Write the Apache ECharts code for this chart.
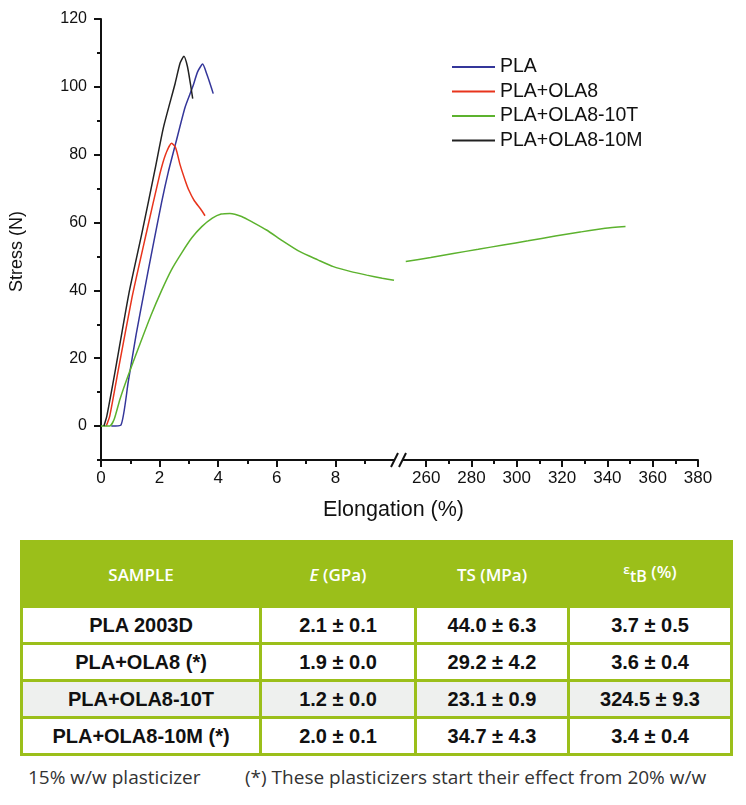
<!DOCTYPE html>
<html>
<head>
<meta charset="utf-8">
<script src="https://cdn.jsdelivr.net/npm/echarts@6/dist/echarts.min.js"></script>
<style>
    html, body {
        margin: 0;
        padding: 0;
        background: #fff;
    }
    #stress-chart {
        position: absolute;
        left: 0;
        top: 0;
        width: 746px;
        height: 530px;
    }
    #props {
        position: absolute;
        left: 20px;
        top: 540px;
        width: 713px;
        border-collapse: collapse;
        border: 3px solid #9bbf1a;
        table-layout: fixed;
    }
    #props th, #props td {
        border: 3px solid #9bbf1a;
        text-align: center;
        padding: 0;
    }
    #props th {
        height: 62px;
        background: #9bbf1a;
        color: #fff;
        font-family: "Open Sans", sans-serif;
        font-weight: 600;
        font-size: 17px;
        border-color: #9bbf1a;
    }
    #props td {
        height: 34px;
        font-family: "Liberation Sans Narrow", "Liberation Sans", Arial, sans-serif;
        font-weight: bold;
        font-size: 20px;
        color: #111;
    }
    #props tr.shade td {
        background: #eef0ee;
    }
    .note {
        position: absolute;
        top: 764px;
        font-family: "Open Sans", sans-serif;
        font-size: 19px;
        color: #333;
    }
</style>
</head>
<body>
<div id="stress-chart"></div>
<table id="props"></table>
<div class="note" style="left:28px">15% w/w plasticizer</div>
<div class="note" style="left:245px">(*) These plasticizers start their effect from 20% w/w</div>

<script>
    // curves: elongation (%) / stress (N)
    var plaX = [0.35, 0.68, 0.93, 1.2, 1.46, 1.75, 2.07, 2.3, 2.55, 2.87, 3.13, 3.3, 3.47, 3.6, 3.72, 3.83];
    var plaY = [0, 0.3, 13, 27, 39, 52, 66, 75, 83.4, 94, 100, 104.5, 106.7, 104, 101, 98];

    var ola8X = [0.18, 0.3, 0.6, 1.06, 1.55, 2.0, 2.2, 2.41, 2.55, 2.7, 2.87, 3.0, 3.18, 3.4, 3.55];
    var ola8Y = [0, 3, 17, 38, 57, 74, 80, 83.4, 82, 77, 72.5, 69.5, 66.5, 64, 62];

    var tX = [0, 0.3, 0.45, 0.65, 0.93, 1.3, 1.7, 2.07, 2.4, 2.75, 3.1, 3.44, 3.8, 4.1, 4.4, 4.8, 5.2, 5.65, 6.2, 6.79, 7.4, 7.93, 8.5, 9.07, 9.6, 10.0];
    var tY = [0, 0, 2, 8, 15, 23.5, 32.5, 40, 46, 51, 55.5, 58.8, 61.3, 62.5, 62.7, 61.8, 60, 57.8, 54.6, 51.4, 49, 47, 45.6, 44.5, 43.6, 43];
    // same sample, after the axis break
    var tFarX = [251, 262, 272, 283, 294, 305, 317, 328, 339, 348];
    var tFarY = [48.5, 49.7, 50.9, 52.1, 53.4, 54.6, 56, 57.2, 58.3, 58.8];

    var mX = [0.1, 0.2, 0.5, 0.95, 1.4, 1.84, 2.13, 2.53, 2.7, 2.83, 2.95, 3.05, 3.13];
    var mY = [0, 3, 17, 39, 57, 75.5, 88, 101, 107, 109, 106, 101, 96.5];

    // axis ticks
    var yTicks = [0, 20, 40, 60, 80, 100, 120];
    var yMinor = [-10, 10, 30, 50, 70, 90, 110];
    var xTicksNear = [0, 2, 4, 6, 8];
    var xMinorNear = [1, 3, 5, 7, 9];
    var xTicksFar = [260, 280, 300, 320, 340, 360, 380];
    var xMinorFar = [270, 290, 310, 330, 350, 370];

    // table
    var samples = ["PLA 2003D", "PLA+OLA8 (*)", "PLA+OLA8-10T", "PLA+OLA8-10M (*)"];
    var modulus = ["2.1 ± 0.1", "1.9 ± 0.0", "1.2 ± 0.0", "2.0 ± 0.1"];
    var strength = ["44.0 ± 6.3", "29.2 ± 4.2", "23.1 ± 0.9", "34.7 ± 4.3"];
    var breakElong = ["3.7 ± 0.5", "3.6 ± 0.4", "324.5 ± 9.3", "3.4 ± 0.4"];

    function pairs(xs, ys) {
        return xs.map(function (x, i) { return [x, ys[i]]; });
    }

    var font = '"Liberation Sans", Arial, sans-serif';

    function xAxisMain(grid, min, max, ticks) {
        return {
            type: 'value', gridIndex: grid, min: min, max: max,
            axisLine: { show: true, onZero: false, lineStyle: { color: '#111', width: 2 } },
            axisTick: { show: true, inside: false, length: 7, customValues: ticks, lineStyle: { color: '#111', width: 2 } },
            axisLabel: { customValues: ticks, margin: 10, color: '#111', fontSize: 17, fontFamily: font },
            splitLine: { show: false }
        };
    }
    function xAxisMinor(grid, min, max, ticks) {
        return {
            type: 'value', gridIndex: grid, min: min, max: max, position: 'bottom',
            axisLine: { show: false, onZero: false },
            axisTick: { show: true, inside: false, length: 4, customValues: ticks, lineStyle: { color: '#111', width: 2 } },
            axisLabel: { show: false },
            splitLine: { show: false }
        };
    }

    var myChart = echarts.init(document.getElementById('stress-chart'));
    var options = {
        animation: false,
        grid: [
            { left: 101, top: 19, width: 293, height: 441 },
            { left: 403.5, top: 19, width: 294.5, height: 441 }
        ],
        legend: {
            orient: 'vertical',
            left: 452,
            top: 57,
            padding: 0,
            icon: 'rect',
            itemWidth: 43,
            itemHeight: 2,
            itemGap: 4.5,
            textStyle: { fontSize: 19.5, color: '#111', fontFamily: font },
            data: ['PLA', 'PLA+OLA8', 'PLA+OLA8-10T', 'PLA+OLA8-10M']
        },
        xAxis: [
            xAxisMain(0, 0, 10, xTicksNear),
            xAxisMinor(0, 0, 10, xMinorNear),
            xAxisMain(1, 250, 380, xTicksFar),
            xAxisMinor(1, 250, 380, xMinorFar)
        ],
        yAxis: [
            {
                type: 'value', gridIndex: 0, min: -10, max: 120,
                axisLine: { show: true, onZero: false, lineStyle: { color: '#111', width: 2 } },
                axisTick: { show: true, inside: false, length: 7, customValues: yTicks, lineStyle: { color: '#111', width: 2 } },
                axisLabel: { customValues: yTicks, margin: 14, color: '#111', fontSize: 16, fontFamily: font },
                splitLine: { show: false }
            },
            {
                type: 'value', gridIndex: 0, min: -10, max: 120, position: 'left',
                axisLine: { show: false, onZero: false },
                axisTick: { show: true, inside: false, length: 4, customValues: yMinor, lineStyle: { color: '#111', width: 2 } },
                axisLabel: { show: false },
                splitLine: { show: false }
            },
            { type: 'value', gridIndex: 1, min: -10, max: 120, show: false, splitLine: { show: false } }
        ],
        series: [
            { name: 'PLA', type: 'line', xAxisIndex: 0, yAxisIndex: 0, data: pairs(plaX, plaY),
              symbol: 'none', smooth: 0.2, color: '#34369a', lineStyle: { width: 1.5 } },
            { name: 'PLA+OLA8', type: 'line', xAxisIndex: 0, yAxisIndex: 0, data: pairs(ola8X, ola8Y),
              symbol: 'none', smooth: 0.2, color: '#e8341c', lineStyle: { width: 1.5 } },
            { name: 'PLA+OLA8-10T', type: 'line', xAxisIndex: 0, yAxisIndex: 0, data: pairs(tX, tY),
              symbol: 'none', smooth: 0.2, color: '#5cb22e', lineStyle: { width: 1.5 } },
            { name: 'PLA+OLA8-10T', type: 'line', xAxisIndex: 2, yAxisIndex: 2, data: pairs(tFarX, tFarY),
              symbol: 'none', smooth: 0.2, color: '#5cb22e', lineStyle: { width: 1.5 } },
            { name: 'PLA+OLA8-10M', type: 'line', xAxisIndex: 0, yAxisIndex: 0, data: pairs(mX, mY),
              symbol: 'none', smooth: 0.2, color: '#222', lineStyle: { width: 1.5 } }
        ],
        graphic: [
            // axis titles
            { type: 'text', x: 323, y: 499, style: { text: 'Elongation (%)', font: '21.5px ' + font, fill: '#111' } },
            { type: 'text', x: 8, y: 292, rotation: Math.PI / 2,
              style: { text: 'Stress (N)', font: '18px ' + font, fill: '#111' } },
            // axis break marks
            { type: 'line', shape: { x1: 391, y1: 467, x2: 398, y2: 453 }, style: { stroke: '#111', lineWidth: 2 } },
            { type: 'line', shape: { x1: 399, y1: 467, x2: 406, y2: 453 }, style: { stroke: '#111', lineWidth: 2 } }
        ]
    };
    myChart.setOption(options);

    // fill the properties table
    var table = document.getElementById('props');
    var head = '<tr><th style="width:236px">SAMPLE</th><th style="width:152px"><i>E</i> (GPa)</th>' +
        '<th style="width:150px">TS (MPa)</th><th><span style="font-size:13px;vertical-align:4px">ε</span>' +
        '<sub style="font-size:16px">tB</sub> (%)</th></tr>';
    var body = '';
    for (var i = 0; i < samples.length; i++) {
        body += '<tr' + (i === 2 ? ' class="shade"' : '') + '><td>' + samples[i] + '</td><td>' + modulus[i] +
            '</td><td>' + strength[i] + '</td><td>' + breakElong[i] + '</td></tr>';
    }
    table.innerHTML = head + body;
</script>
</body>
</html>
